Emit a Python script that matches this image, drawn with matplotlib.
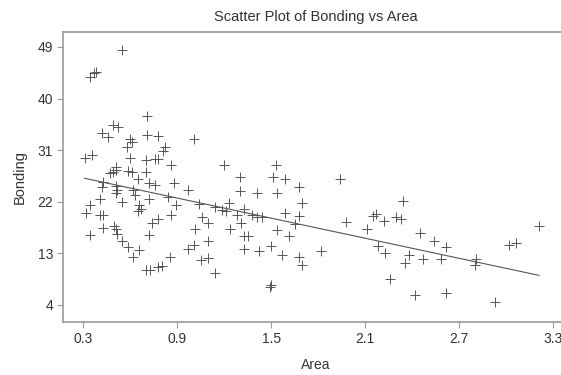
import numpy as np
import matplotlib
matplotlib.use("Agg")
import matplotlib.pyplot as plt

# values
area = [0.55, 0.345, 0.37, 0.38, 0.71, 0.49, 0.52, 0.42, 0.46, 0.71,
        0.78, 0.60, 0.61, 1.01, 0.58, 0.82, 0.81, 0.31, 0.36, 0.60,
        0.70, 0.76, 0.78, 0.86, 1.20, 0.51, 1.53,
        0.47, 0.49, 0.51, 0.61, 0.59, 0.70, 0.65, 0.43, 0.42, 0.51,
        0.515, 0.51, 0.72, 0.76, 0.88, 0.62, 0.63, 0.97, 0.41, 0.72,
        0.845, 0.55, 0.345, 0.66, 0.67, 0.65, 0.89, 1.04, 1.14, 1.185,
        1.23, 1.21, 0.32, 0.41, 0.43, 0.86, 1.06, 0.78, 0.74, 1.10,
        0.43, 0.50, 0.51, 0.515, 1.015, 0.345, 0.72, 1.24, 0.55, 1.10,
        0.59, 0.655, 0.97, 1.01, 0.62, 0.855, 1.05, 1.10, 0.70, 0.73,
        0.78, 0.805, 1.14,
        1.30, 1.51, 1.59, 1.94, 1.68, 1.30, 1.41, 1.54, 1.70, 1.33,
        1.28, 1.38, 1.41, 1.44, 1.59, 1.68, 1.98, 2.15, 2.17, 2.22,
        1.31, 1.54, 1.65, 2.11, 1.33, 1.355, 1.615, 1.33, 1.42, 1.50,
        1.57, 1.68, 1.70, 1.82, 2.18, 2.23, 1.49, 1.50, 2.26,
        2.34, 2.30, 2.33, 2.45, 2.54, 2.615, 2.38, 2.355, 2.47, 2.585,
        2.81, 2.80, 3.02, 3.06, 3.21, 2.42, 2.615, 2.93]
bonding = [48.4, 43.8, 44.5, 44.7, 36.9, 35.4, 35.0, 34.0, 33.3, 33.7,
           33.4, 32.9, 32.5, 33.0, 31.6, 31.6, 30.9, 29.6, 30.2, 29.6,
           29.2, 29.4, 29.4, 28.4, 28.4, 28.0, 28.4,
           27.0, 27.1, 27.5, 27.1, 27.3, 27.2, 25.9, 25.5, 24.6, 24.8,
           24.1, 23.6, 25.3, 24.9, 25.3, 24.1, 23.2, 24.0, 22.4, 22.4,
           22.9, 21.9, 21.5, 21.4, 20.7, 20.4, 21.4, 21.6, 21.1, 20.6,
           21.7, 20.3, 20.1, 19.7, 19.7, 19.7, 19.4, 19.0, 18.3, 18.3,
           17.4, 17.7, 17.2, 16.4, 17.2, 16.2, 16.2, 17.2, 15.1, 15.1,
           14.1, 13.5, 13.7, 14.5, 12.4, 12.3, 11.9, 12.2, 10.1, 10.1,
           10.6, 10.8, 9.5,
           26.3, 26.3, 26.0, 26.0, 24.5, 23.8, 23.5, 23.5, 21.7, 20.8,
           19.7, 19.7, 19.4, 19.4, 20.0, 19.5, 18.4, 19.5, 19.9, 18.6,
           18.3, 17.0, 18.1, 17.2, 16.1, 16.1, 16.1, 13.7, 13.4, 14.2,
           12.7, 12.3, 11.0, 13.4, 14.2, 13.0, 7.1, 7.5, 8.6,
           22.1, 19.3, 19.0, 16.5, 15.2, 14.1, 12.7, 11.3, 12.0, 12.0,
           12.0, 11.0, 14.5, 14.8, 17.8, 5.7, 6.0, 4.6]

xticks = [0.3, 0.9, 1.5, 2.1, 2.7, 3.3]
yticks = [4, 13, 22, 31, 40, 49]

plt.rcParams['font.family'] = ['Liberation Sans', 'DejaVu Sans']
txt = '#333333'
edge = '#999999'

fig = plt.figure(figsize=(5.61, 3.75), dpi=100)
ax = fig.add_axes([63/561, 1-322/375, 505/561, 290/375])

x = np.array(area)
y = np.array(bonding)
ax.plot(x, y, linestyle='none', marker='+', markersize=6.5,
        markeredgewidth=0.7, color='#555555')

# least squares line over the data range
b, a = np.polyfit(x, y, 1)
xs = np.array([x.min(), x.max()])
ax.plot(xs, a + b*xs, color='#555555', lw=0.8)

ax.set_xlim(0.172, 3.395)
ax.set_ylim(1.03, 51.6)
ax.set_xticks(xticks)
ax.set_xticklabels([str(v) for v in xticks])
ax.set_yticks(yticks)

for s in ['left', 'bottom', 'top', 'right']:
    ax.spines[s].set_color(edge)
    ax.spines[s].set_linewidth(1.2)
ax.tick_params(direction='out', length=4, width=0.8, color=edge,
               labelcolor=txt, labelsize=10, pad=3)

ax.set_title('Scatter Plot of Bonding vs Area', fontsize=10.5, color=txt, pad=8)
ax.set_xlabel('Area', fontsize=10, color=txt, labelpad=9)
ax.set_ylabel('Bonding', fontsize=10.5, color=txt, labelpad=8)

fig.savefig('out.png', dpi=100)
